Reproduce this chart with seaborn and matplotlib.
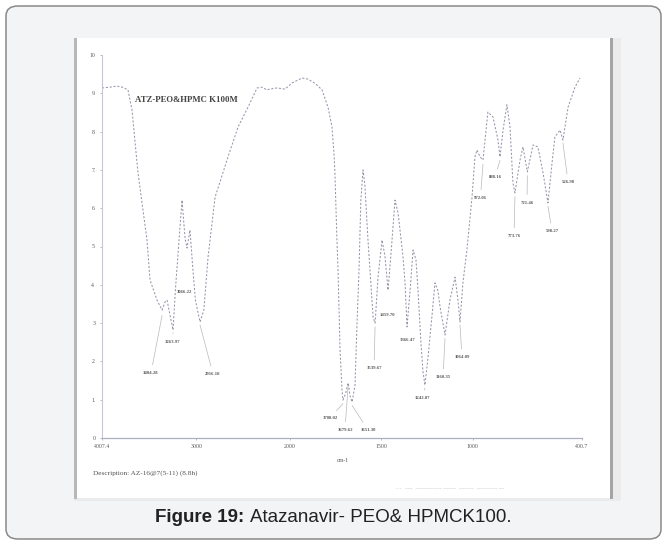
import numpy as np
import pandas as pd
import matplotlib
matplotlib.use("Agg")
import matplotlib.pyplot as plt
import seaborn as sns
from matplotlib.patches import Rectangle, FancyBboxPatch

# ---------------- data ----------------
wavenumber = [4007, 3922, 3850, 3790, 3730, 3687, 3623, 3527, 3495, 3420, 3366, 3335, 3313, 3249,
              3220, 3175, 3153, 3120, 3100, 3068, 3040, 3010, 2961, 2920, 2875, 2800, 2662, 2555,
              2448, 2352, 2299, 2250, 2213, 2138, 2053, 1989, 1934, 1901, 1860, 1825, 1792, 1770,
              1758, 1754, 1743, 1737, 1726, 1715, 1710, 1696, 1682, 1671, 1660, 1644, 1633, 1622,
              1612, 1600, 1590, 1573, 1562, 1545, 1534, 1518, 1496, 1480, 1463, 1447, 1425, 1408,
              1381, 1370, 1359, 1340, 1326, 1310, 1299, 1283, 1272, 1261, 1244, 1222, 1206, 1190,
              1178, 1151, 1124, 1096, 1080, 1069, 1053, 1031, 1003, 987, 976, 959, 943, 916, 888,
              861, 850, 833, 812, 795, 779, 768, 740, 724, 700, 669, 642, 614, 587, 565, 549, 521,
              505, 477, 439, 412]
transmittance = [91.4, 91.6, 91.9, 91.6, 90.9, 85.6, 69.2, 51.7, 41.3, 36.0, 33.4, 35.5, 36.0, 28.2,
                 40.0, 55.0, 62.1, 52.0, 49.6, 54.3, 45.0, 36.0, 30.3, 33.4, 47.3, 62.9, 73.4, 81.2,
                 86.4, 91.4, 91.6, 90.9, 91.1, 91.4, 91.1, 92.7, 94.0, 93.7, 92.5, 90.9, 86.4, 81.2,
                 73.4, 69.2, 51.7, 43.9, 23.0, 12.5, 9.9, 11.5, 14.4, 11.0, 9.4, 13.8, 30.0, 43.9,
                 62.1, 70.0, 66.1, 51.7, 43.9, 31.6, 30.0, 42.0, 51.7, 47.5, 38.6, 48.0, 62.1, 58.7,
                 47.3, 40.5, 29.0, 40.0, 49.1, 46.5, 38.6, 25.0, 17.5, 13.8, 21.1, 32.1, 40.5, 38.5,
                 34.2, 26.9, 36.0, 42.0, 36.0, 30.3, 40.5, 49.1, 62.9, 73.4, 75.2, 73.4, 72.6, 85.1,
                 83.8, 77.8, 73.4, 80.4, 87.0, 81.2, 66.6, 64.0, 72.6, 76.0, 69.5, 76.5, 76.0, 69.2,
                 61.4, 71.8, 78.6, 80.4, 77.8, 86.4, 91.6, 94.0]

x_ticks = [4007.4, 3000, 2000, 1500, 1000, 400.7]
x_tick_labels = ["4007.4", "3000", "2000", "1500", "1000", "400.7"]
y_ticks = [0, 10, 20, 30, 40, 50, 60, 70, 80, 90, 100]
y_tick_labels = ["0", "1.", "2.", "3", "4.", "5.", "6.", "7.", "8.", "9.", "10"]

peak_texts = ["3404.28", "3263.97", "3066.22", "2916.18", "1708.02", "1679.62", "1651.30",
              "1539.67", "1459.70", "1366.47", "1242.07", "1160.35", "1064.09", "972.06",
              "888.16", "773.76", "721.46", "598.27", "526.98"]
peak_label_wn = [3484, 3254, 3132, 2822, 1781, 1699, 1573, 1540, 1466, 1354, 1277, 1162, 1058,
                 957, 877, 773, 702, 565, 477]
peak_label_t = [17.0, 25.1, 38.1, 16.7, 5.2, 2.1, 2.1, 18.3, 32.1, 25.6, 10.4, 15.9, 21.1,
                62.7, 68.1, 52.7, 61.4, 54.0, 66.8]
peak_tip_wn = [3366, 3249, None, 2961, 1710, 1682, 1660, 1534, None, None, 1261, 1151, 1069,
               943, 850, 768, 700, 587, 505]
peak_tip_t = [32.0, 27.5, None, 29.5, 9.0, 13.5, 8.5, 29.0, None, None, 13.0, 26.0, 29.5,
              71.5, 72.5, 63.0, 68.5, 60.5, 77.0]

df = pd.DataFrame({"wavenumber": wavenumber, "T": transmittance})

W, H = 667, 545
fig = plt.figure(figsize=(W / 100, H / 100), dpi=100)
fig.patch.set_facecolor("white")


def fx(px):
    return px / W


def fy(py):
    return 1 - py / H


# outer rounded caption box
box = FancyBboxPatch((fx(6), fy(539)), fx(655), 533 / H,
                     boxstyle="round,pad=0,rounding_size=0.018",
                     transform=fig.transFigure, facecolor="#f3f4f6",
                     edgecolor="#8a8a8a", linewidth=1.1, zorder=-5)
fig.add_artist(box)
# scanned image frame
fig.add_artist(Rectangle((fx(74), fy(501)), fx(547), 463 / H, transform=fig.transFigure,
                         facecolor="#ebebeb", edgecolor="none", zorder=-4))
fig.add_artist(Rectangle((fx(77), fy(498)), fx(534), 460 / H, transform=fig.transFigure,
                         facecolor="white", edgecolor="none", zorder=-3))
fig.add_artist(Rectangle((fx(610), fy(499)), fx(3), 461 / H, transform=fig.transFigure,
                         facecolor="#a4a4a4", edgecolor="none", zorder=-3))
fig.add_artist(Rectangle((fx(74), fy(499)), fx(3), 461 / H, transform=fig.transFigure,
                         facecolor="#b8b8b8", edgecolor="none", zorder=-3))

# spectrum axes
ax = fig.add_axes([fx(102), fy(438), (582 - 102) / W, (438 - 55) / H])
ax.set_facecolor("none")

k = 0.513


def fwd(w):
    w = np.asarray(w, dtype=float)
    return np.where(w < 2000, w, 2000 + (w - 2000) * k)


def inv(f):
    f = np.asarray(f, dtype=float)
    return np.where(f < 2000, f, 2000 + (f - 2000) / k)


ax.set_xscale("function", functions=(fwd, inv))

sns.lineplot(data=df, x="wavenumber", y="T", sort=False, estimator=None, ax=ax,
             color="#9a94ab", linewidth=0.75, dashes=False)
ax.lines[0].set_dashes((2.0, 1.7))

ax.set_xlim(4007.4, 400.7)
ax.set_ylim(0, 100)
ax.set_xticks(x_ticks)
ax.set_xticklabels(x_tick_labels)
ax.set_yticks(y_ticks)
ax.set_yticklabels(y_tick_labels)
ax.minorticks_off()
ax.tick_params(axis="both", length=1.5, width=0.5, color="#a0a0a0", labelsize=4.2,
               labelcolor="#5a5a5a", pad=3)
for lab in ax.get_xticklabels() + ax.get_yticklabels():
    lab.set_family("Liberation Serif")
for s in ["top", "right"]:
    ax.spines[s].set_visible(False)
ax.spines["bottom"].set_color("#aab0bd")
ax.spines["bottom"].set_linewidth(0.9)
ax.spines["left"].set_color("#cdc2dc")
ax.spines["left"].set_linewidth(0.8)
ax.set_xlabel("")
ax.set_ylabel("")

for txt, lw_, lt_, tw_, tt_ in zip(peak_texts, peak_label_wn, peak_label_t, peak_tip_wn, peak_tip_t):
    if tw_ is None:
        ax.text(lw_, lt_, txt, fontsize=3.4, ha="center", va="center", color="#5a5a5a",
                family="Liberation Serif", fontweight="bold")
    else:
        ax.annotate(txt, xy=(tw_, tt_), xytext=(lw_, lt_), fontsize=3.4, ha="center",
                    va="center", color="#5a5a5a", family="Liberation Serif", fontweight="bold",
                    arrowprops=dict(arrowstyle="-", color="#b8b8b8", lw=0.5, shrinkA=2.5,
                                    shrinkB=0))

fig.text(fx(135), fy(100), "ATZ-PEO&HPMC K100M", fontsize=6.3, fontweight="bold",
         family="Liberation Serif", color="#444444", ha="left", va="center")
fig.text(fx(343), fy(460), "cm-1", fontsize=4.2, family="Liberation Serif",
         color="#555555", ha="center", va="center")
fig.text(fx(93), fy(473), "Description: AZ-16@7(5-11) (8.8h)", fontsize=5.2,
         family="Liberation Serif", color="#555555", ha="left", va="center")
fig.text(fx(450), fy(489), "- -   ----  -------------- -------  --------  ----------- ---",
         fontsize=4, family="Liberation Serif", color="#c4c4c4", ha="center", va="center")

# caption
fig.text(fx(155), fy(518), "Figure 19:", fontsize=13.5, fontweight="bold",
         family="Liberation Sans", color="#222222", ha="left", va="center")
fig.text(fx(250), fy(518), "Atazanavir- PEO& HPMCK100.", fontsize=13.5,
         family="Liberation Sans", color="#222222", ha="left", va="center")

fig.savefig("out.png", dpi=100, facecolor="white")
